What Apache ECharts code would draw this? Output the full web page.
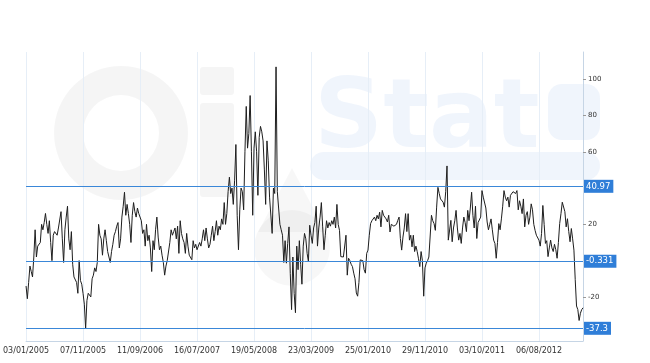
<!DOCTYPE html>
<html><head><meta charset="utf-8">
<script src="https://cdn.jsdelivr.net/npm/echarts@6/dist/echarts.min.js"></script>
<style>html,body{margin:0;padding:0;background:#fff}#c{width:650px;height:363px}</style>
</head><body><div id="c"></div>
<script>
// Weekly series, first week 03/01/2005
const startDate = '2005-01-03';
const values = [
 -14, -21, -12, -3, -6, -9, 2, 17, 2, 8,
 9, 10, 20, 17, 21, 26, 20, 15, 22, 10,
 0, 14, 16, 15, 14, 18, 19, 27, 12, -1,
 17, 24, 30, 12, 6, 16, -2, -9, -8, -12,
 -18, 0, -11, -13, -18, -24, -37.3, -22, -18, -19,
 -20, -10, -8, -4, -6, -1, 20, 14, 12, 3,
 12, 17, 11, 5, 2, -1, 5, 9, 14, 16,
 19, 21, 7, 12, 24, 30, 37.7, 25, 31, 26,
 20, 10, 25, 32, 27, 24, 29, 26, 27, 22,
 15, 17, 8, 20, 11, 14, 7, -6, 11, 6,
 17, 24, 13, 6, 8, 3, -1, -8, -3, 0,
 1, 10, 17, 14, 16, 18, 12, 19, 4, 22,
 15, 12, 10, 4, 15, 8, 3, 2, 0.5, 11,
 7, 9, 6, 5, 10, 8, 12, 17, 11, 18,
 12, 7, 9, 14, 19, 11, 16, 22, 14, 19,
 17, 23, 20, 32, 20, 26, 38, 46, 37, 40,
 31, 44, 64, 25, 6, 28, 40, 38, 28, 60,
 85, 62, 70, 91, 60, 25, 62, 71, 60, 36,
 68, 74, 71, 66, 50, 31, 66, 55, 35, 34,
 15, 40, 37, 106.8, 38, 29, 20, 17, 14, -1,
 11, -1.4, 9.5, 18.6, -7, -27, 2, -18, -28.7, 8,
 -5, 11, -2, -13, 8, 15, 12, 4, -0.5, 19.5,
 14, 9.5, 18, 21, 30, 8, 18, 24, 32, 18.6,
 6, 14, 22, 18, 21, 19, 22, 20, 24, 18,
 31, 20, 16.7, 2.2, 3, 2, 1, 14, -8, 1.3,
 0, -2, -3.3, -6.9, -10, -17.8, -19.6, -12, 0.4, 1,
 0, -5, -6.9, 4, 5.8, 14, 20.4, 22, 23, 24,
 22, 25, 23, 26.7, 18.6, 27.7, 25, 24, 23, 21.3,
 25, 15.8, 20, 19, 19, 18, 20, 22.2, 24, 12.2,
 5.8, 13, 18, 25.9, 16, 25.9, 11.3, 14, 7.6, 14,
 5, 8, 5, 1, -3.3, 5, 0, -19.6, -4, -1.4,
 0, 2, 3.1, 25, 22, 20.4, 16.7, 29.5, 40.4, 37,
 34, 33, 32.2, 29.5, 38, 52.2, 11.3, 12, 22.2, 10.4,
 18, 22, 27.7, 18, 11.3, 15, 9.5, 18, 24, 21,
 16, 27.7, 22, 29, 37.7, 25, 18, 30, 12.2, 21,
 20, 24, 38.6, 35, 35, 29, 21.3, 17, 20, 23,
 17, 11.3, 9.5, 1.3, 10, 20.4, 17, 23, 30, 38.6,
 35, 33, 35, 29.5, 36, 37, 38, 37.7, 37, 38.6,
 28, 33, 30, 25.9, 34, 18.6, 25, 27, 20, 24,
 31.3, 28, 20, 16.7, 14, 15, 11.3, 8, 15, 30.4,
 20, 9.5, 11, 2.2, 7, 11.3, 7, 5, 9, 6,
 1.3, 10, 20.4, 25.9, 32.2, 33, 27, 18.6, 23.1, 16,
 10.4, 17.7, 12, 5.8, -10.5, -25, -27, -33, -29, -27,
 -26
];
const markValues = [40.97, -0.331, -37.3];
const yTickValues = [-20, 20, 60, 80, 100];
const labelEvery = 44;

function pad(n){ return (n < 10 ? '0' : '') + n; }
const categories = values.map(function(_, i){
  const d = new Date(startDate + 'T00:00:00Z');
  d.setUTCDate(d.getUTCDate() + 7 * i);
  return pad(d.getUTCDate()) + '/' + pad(d.getUTCMonth() + 1) + '/' + d.getUTCFullYear();
});

const chart = echarts.init(document.getElementById('c'), null, {renderer: 'canvas'});
const wm = 'rgba(0,0,0,0.04)';
const wmBlue = 'rgba(47,126,216,0.075)';
chart.setOption({
  animation: false,
  backgroundColor: '#fff',
  textStyle: {fontFamily: 'DejaVu Sans'},
  graphic: [
    {type: 'ring', silent: true, z: -10, shape: {cx: 121, cy: 133, r: 67, r0: 38}, style: {fill: wm}},
    {type: 'rect', silent: true, z: -10, shape: {x: 200, y: 67, width: 34, height: 28, r: 3}, style: {fill: wm}},
    {type: 'rect', silent: true, z: -10, shape: {x: 200, y: 103, width: 34, height: 94, r: 3}, style: {fill: wm}},
    {type: 'circle', silent: true, z: -10, shape: {cx: 292, cy: 248, r: 38}, style: {fill: 'rgba(0,0,0,0.03)'}},
    {type: 'polygon', silent: true, z: -10, shape: {points: [[292, 168], [258, 232], [326, 232]]}, style: {fill: 'rgba(0,0,0,0.03)'}},
    {type: 'text', silent: true, z: -10, style: {x: 314, y: 74, text: 'Stat', fill: wmBlue, font: 'bold 96px "DejaVu Sans"'}},
    {type: 'rect', silent: true, z: -10, shape: {x: 548, y: 84, width: 52, height: 56, r: 14}, style: {fill: wmBlue}},
    {type: 'rect', silent: true, z: -10, shape: {x: 310, y: 152, width: 290, height: 28, r: 14}, style: {fill: wmBlue}}
  ],
  grid: {left: 26, right: 67, top: 52, bottom: 22},
  xAxis: {
    type: 'category',
    data: categories,
    boundaryGap: false,
    axisLine: {onZero: false, lineStyle: {color: '#c6d5e5', width: 1}},
    axisTick: {show: false},
    axisLabel: {interval: labelEvery - 1, color: '#333', fontSize: 8, fontFamily: 'DejaVu Sans', margin: 6},
    splitLine: {show: true, interval: labelEvery - 1, lineStyle: {color: '#e6eef7', width: 1}}
  },
  yAxis: {
    type: 'value',
    position: 'right',
    min: -44.3,
    max: 115,
    axisLine: {show: true, lineStyle: {color: '#c6d5e5', width: 1}},
    axisTick: {show: true, length: 3, customValues: yTickValues, lineStyle: {color: '#999'}},
    axisLabel: {customValues: yTickValues, color: '#333', fontSize: 7, fontFamily: 'DejaVu Sans', margin: 5},
    splitLine: {show: false}
  },
  series: [{
    type: 'line',
    data: values,
    showSymbol: false,
    symbol: 'none',
    lineStyle: {color: '#1e1e1e', width: 1},
    silent: true,
    z: 3,
    markLine: {
      silent: true,
      precision: 3,
      symbol: ['none', 'none'],
      animation: false,
      lineStyle: {color: '#3a87d8', width: 1, type: 'solid'},
      label: {
        show: true,
        position: 'end',
        distance: 1,
        formatter: function(p){ return p.name; },
        color: '#fff',
        backgroundColor: '#2f7ed8',
        fontSize: 8.5,
        fontFamily: 'DejaVu Sans',
        padding: [2, 3, 2, 2]
      },
      emphasis: {disabled: true},
      data: markValues.map(function(v){ return {yAxis: v, name: String(v)}; })
    }
  }]
});
</script>
</body></html>
